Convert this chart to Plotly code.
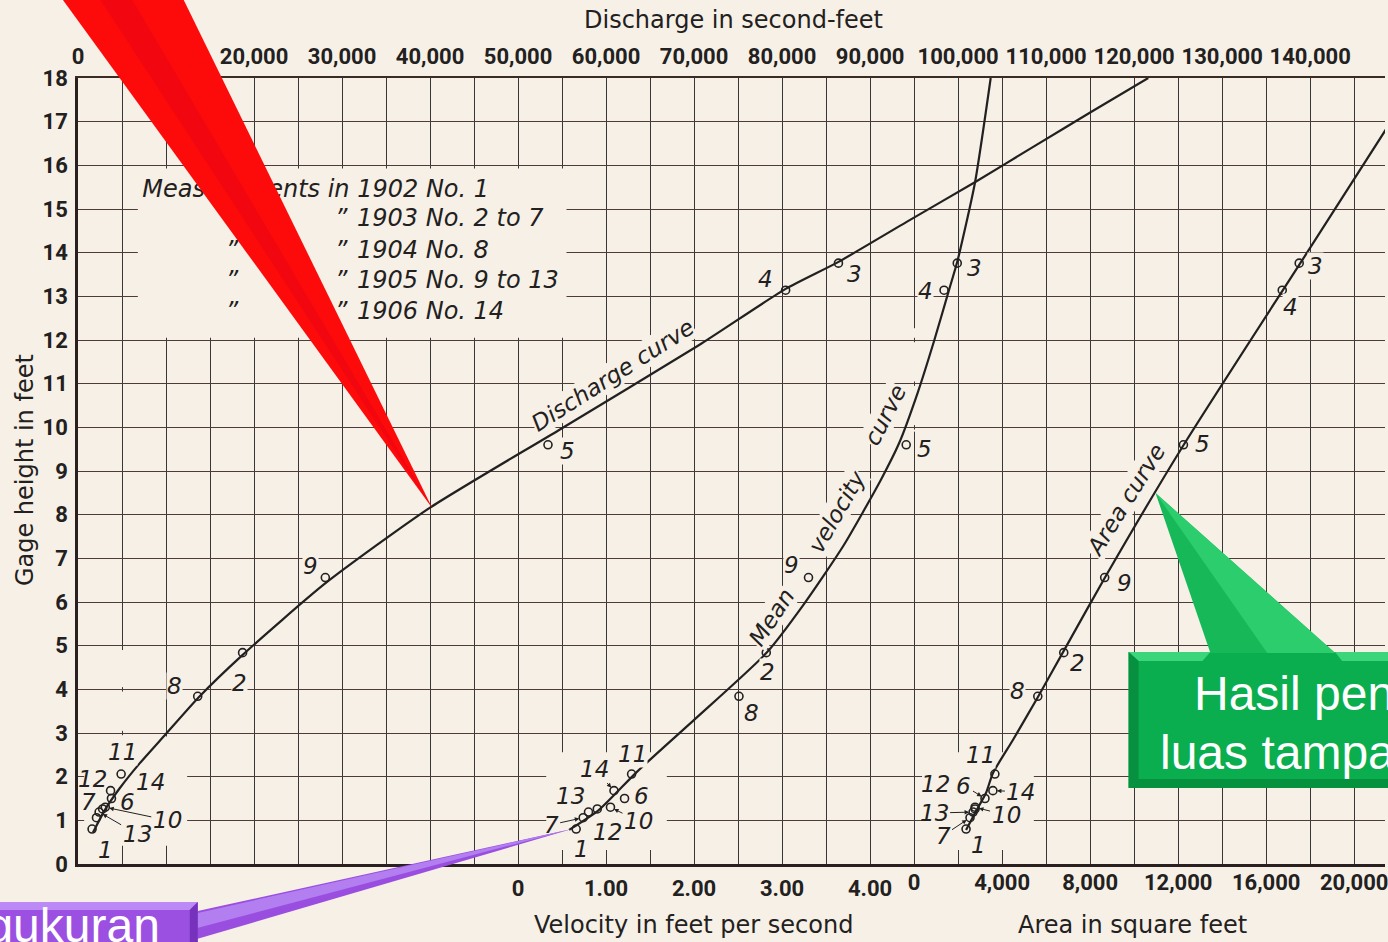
import plotly.graph_objects as go

# ---------------------------------------------------------------------------
# Current-meter measurements (numbered 1..14): gage height and the three
# quantities plotted against it.
# ---------------------------------------------------------------------------
meas_no = [1, 2, 3, 4, 5, 6, 7, 8, 9, 10, 11, 12, 13, 14]
gage_ft = [0.80, 4.84, 13.76, 13.14, 9.60, 1.50, 1.06, 3.84, 6.56, 1.30, 2.06, 1.26, 1.19, 1.68]
discharge_cfs = [1600, 18700, 86400, 80400, 53400, 3800, 2100, 13600, 28100, 3100, 4900, 2800, 2400, 3700]
velocity_fps = [0.66, 2.82, 4.99, 4.84, 4.41, 1.21, 0.74, 2.51, 3.30, 1.05, 1.29, 0.90, 0.80, 1.09]
area_sqft = [2360, 6800, 17500, 16730, 12240, 3220, 2540, 5620, 8660, 2770, 3670, 2770, 2680, 3580]

# Fitted rating curves
discharge_curve_q = [1700, 3060, 4760, 7030, 9860, 13720, 18710, 28120, 39920, 54660, 70530, 80400, 86410, 94200, 101950, 109000, 115000, 121600]
discharge_curve_g = [0.72, 1.24, 1.74, 2.31, 2.95, 3.82, 4.79, 6.43, 8.15, 9.94, 11.88, 13.17, 13.79, 14.71, 15.62, 16.48, 17.21, 18.0]

velocity_curve_v = [0.58, 0.92, 1.35, 2.00, 2.82, 3.24, 3.70, 4.12, 4.33, 4.54, 4.73, 4.90, 4.99, 5.19, 5.37]
velocity_curve_g = [0.78, 1.24, 2.11, 3.30, 4.83, 5.93, 7.30, 8.79, 9.64, 10.79, 12.0, 13.17, 13.79, 15.59, 18.0]

area_curve_a = [2360, 2770, 3270, 3580, 4490, 5620, 6800, 8660, 12240, 16730, 17500, 21720]
area_curve_g = [0.78, 1.17, 1.63, 2.08, 2.84, 3.82, 4.88, 6.55, 9.59, 13.12, 13.72, 17.04]

# Axis ticks
velocity_ticks = [0, 1, 2, 3, 4]
velocity_ticktext = ["0", "1.00", "2.00", "3.00", "4.00"]
area_ticks = [0, 4000, 8000, 12000, 16000, 20000]
area_ticktext = ["0", "4,000", "8,000", "12,000", "16,000", "20,000"]
gage_ticks = list(range(0, 19))

legend_years = ["1902 No. 1", "1903 No. 2 to 7", "1904 No. 8", "1905 No. 9 to 13", "1906 No. 14"]

# ---------------------------------------------------------------------------
# Styling / geometry
# ---------------------------------------------------------------------------
W, H = 1388, 942
L, T, B = 78, 78, 78
PW, PH = W - L, H - T - B
BG = "#f6f0e6"
INK = "#222020"
HGRID = "#4e3c3a"
VGRID = "#383636"

Q_MAX = 148500                       # discharge at right edge of the sheet
V_ORIGIN, V_SCALE = 50000, 10000     # velocity 0 sits on the 50,000 line, 1 ft/s per 10,000
A_ORIGIN, A_SCALE = 95000, 2.5       # area 0 sits on the 95,000 line, 4,000 sq ft per 10,000

TICK_FAMILY = "Roboto, DejaVu Sans Condensed, sans-serif"
TEXT_FAMILY = "DejaVu Sans, Liberation Sans, sans-serif"
CALLOUT_FAMILY = "Liberation Sans, Arial, sans-serif"
ITALIC = dict(family=TEXT_FAMILY, size=23, color=INK, style="italic")


def paper(x, y):
    """Screen pixel -> paper coordinates."""
    return (x - L) / PW, (T + PH - y) / PH


def poly(points, color):
    pts = [paper(x, y) for x, y in points]
    path = "M " + " L ".join(f"{px:.5f},{py:.5f}" for px, py in pts) + " Z"
    return dict(type="path", xref="paper", yref="paper", path=path,
                fillcolor=color, line=dict(width=0), layer="above")


def blank(x0, x1, y0, y1):
    return dict(type="rect", xref="x", yref="y", x0=x0, x1=x1, y0=y0, y1=y1,
                fillcolor=BG, line=dict(width=0), layer="between")


def blank_vertical(xc, g0, g1, half=700, gap=0.05):
    """Erase one vertical ruling between two stages, keeping the horizontals."""
    out = []
    lo = g0
    k = int(g0) + 1
    while k <= g1:
        out.append(blank(xc - half, xc + half, lo, k - gap))
        lo = k + gap
        k += 1
    if lo < g1:
        out.append(blank(xc - half, xc + half, lo, g1))
    return out


fig = go.Figure()

# ---- curves -----------------------------------------------------------------
curve_line = dict(color=INK, width=2.2, shape="spline", smoothing=0.6)
marker = dict(symbol="circle-open", size=8, color=INK, line=dict(width=1.6, color=INK))

fig.add_trace(go.Scatter(x=discharge_curve_q, y=discharge_curve_g, mode="lines",
                         line=curve_line, xaxis="x", yaxis="y", hoverinfo="skip"))
fig.add_trace(go.Scatter(x=discharge_cfs, y=gage_ft, mode="markers", marker=marker,
                         xaxis="x", yaxis="y"))

fig.add_trace(go.Scatter(x=velocity_curve_v, y=velocity_curve_g, mode="lines",
                         line=curve_line, xaxis="x2", yaxis="y", hoverinfo="skip"))
fig.add_trace(go.Scatter(x=velocity_fps, y=gage_ft, mode="markers", marker=marker,
                         xaxis="x2", yaxis="y"))

fig.add_trace(go.Scatter(x=area_curve_a, y=area_curve_g, mode="lines",
                         line=curve_line, xaxis="x3", yaxis="y", hoverinfo="skip"))
fig.add_trace(go.Scatter(x=area_sqft, y=gage_ft, mode="markers", marker=marker,
                         xaxis="x3", yaxis="y"))

# ---- key to the measurement years (drawn as a text trace) ----------------------
legend_rows_g = [15.41, 14.74, 14.02, 13.32, 12.62]
key_x, key_y, key_t = [], [], []
key_x.append(7300); key_y.append(legend_rows_g[0]); key_t.append("Measurements in " + legend_years[0])
for g, yr in zip(legend_rows_g[1:], legend_years[1:]):
    key_x += [16800, 29200, 31700]
    key_y += [g, g, g]
    key_t += ["\u201d", "\u201d", yr]
fig.add_trace(go.Scatter(x=key_x, y=key_y, text=key_t, mode="text",
                         textposition="middle right",
                         textfont=dict(family=TEXT_FAMILY, size=24, color=INK, style="italic"),
                         xaxis="x", yaxis="y", hoverinfo="skip"))

# ---- axes ---------------------------------------------------------------------
grid_vals = list(range(0, 145001, 5000))
grid_text = [f"{v:,}" if v % 10000 == 0 else "" for v in grid_vals]
tickfont = dict(family=TICK_FAMILY, size=22, color=INK, weight="bold")

fig.update_layout(
    width=W, height=H,
    margin=dict(l=L, r=0, t=T, b=B),
    paper_bgcolor=BG, plot_bgcolor=BG,
    showlegend=False,
    xaxis=dict(side="top", range=[0, Q_MAX], tickvals=grid_vals, ticktext=grid_text,
               tickangle=0, showgrid=True, gridcolor=VGRID, gridwidth=1.2, zeroline=False,
               showline=True, linecolor="#3c2c24", linewidth=2, ticks="",
               tickfont=tickfont, ticklabelstandoff=3, ticklabeloverflow="allow"),
    xaxis2=dict(overlaying="x", side="bottom", anchor="y",
                range=[(0 - V_ORIGIN) / V_SCALE, (Q_MAX - V_ORIGIN) / V_SCALE],
                tickvals=velocity_ticks, ticktext=velocity_ticktext, tickangle=0,
                showgrid=False, zeroline=False, showline=True, linecolor="#2a2020",
                linewidth=2.5, ticks="", tickfont=tickfont, ticklabelstandoff=3,
                ticklabeloverflow="allow"),
    xaxis3=dict(overlaying="x", side="bottom", anchor="y",
                range=[(0 - A_ORIGIN) / A_SCALE, (Q_MAX - A_ORIGIN) / A_SCALE],
                tickvals=area_ticks, ticktext=area_ticktext, tickangle=0,
                showgrid=False, zeroline=False, showline=False, ticks="",
                tickfont=tickfont, ticklabelstandoff=3, ticklabeloverflow="allow"),
    yaxis=dict(range=[0, 18], tickvals=gage_ticks, showgrid=True, gridcolor=HGRID,
               gridwidth=1.3, zeroline=False, showline=True, linecolor="#2a2020",
               linewidth=2.5, ticks="", tickfont=tickfont, ticklabelstandoff=3),
)

# ---- clear patches of the ruling around the key and the crowded low stages ------
shapes = [
    blank(6800, 55500, 12.05, 15.93),
    blank(700, 12400, 0.42, 2.92),
    blank(53200, 66900, 0.32, 2.56),
    blank(95900, 108600, 0.32, 2.56),
]
shapes += blank_vertical(5000, 2.9, 4.9)
shapes += blank_vertical(95000, 9.9, 12.27)

# ---- measurement numbers ------------------------------------------------------------
# plain labels: (dx, dy) screen offset from the point; arrowed labels: text offset
plain = {
    "x": {1: (13, 21), 2: (-3, 30), 3: (16, 11), 4: (-20, -11), 5: (20, 6), 6: (16, 3),
          7: (-8, -16), 8: (-23, -10), 9: (-15, -12), 11: (1, -22), 12: (-10, -30), 14: (40, -9)},
    "x2": {1: (5, 20), 2: (1, 19), 3: (17, 5), 4: (-19, 1), 5: (18, 4), 6: (17, -3),
           8: (13, 17), 9: (-17, -13), 11: (1, -20), 12: (10, 23)},
    "x3": {1: (12, 16), 2: (14, 10), 3: (16, 3), 4: (8, 17), 5: (19, -1), 8: (-20, -5),
           9: (20, 5), 11: (-14, -19), 12: (-40, -25)},
}
arrowed = {
    "x": {10: (62, 13), 13: (38, 22)},
    "x2": {7: (-32, 7), 10: (28, 14), 13: (-18, -16), 14: (-20, -22)},
    "x3": {6: (-21, -13), 7: (-27, 18), 10: (31, 8), 13: (-39, 1), 14: (28, 1)},
}
values = {"x": discharge_cfs, "x2": velocity_fps, "x3": area_sqft}
crowded = {1, 6, 7, 10, 12, 13, 14}

annotations = []
for ax_name, vals in values.items():
    for n, xv, g in zip(meas_no, vals, gage_ft):
        if n in plain[ax_name]:
            dx, dy = plain[ax_name][n]
            annotations.append(dict(
                x=xv, y=g, xref=ax_name, yref="y", text=str(n), showarrow=False,
                xanchor="center", yanchor="middle",
                xshift=dx, yshift=-dy, font=ITALIC, borderpad=0,
                bgcolor=("rgba(0,0,0,0)" if n in crowded else BG)))
        if n in arrowed[ax_name]:
            ox, oy = arrowed[ax_name][n]
            annotations.append(dict(
                x=xv, y=g, xref=ax_name, yref="y", text=str(n), showarrow=True,
                ax=ox, ay=oy, arrowhead=2, arrowsize=0.9, arrowwidth=1,
                arrowcolor=INK, standoff=4, font=ITALIC))

# ---- curve names ----------------------------------------------------------------------
curve_font = dict(family=TEXT_FAMILY, size=23, color=INK, style="italic")
for txt, xr, xv, g, ang in [
    ("Discharge curve", "x", 60770, 11.20, -32.5),
    ("Mean", "x2", 2.88, 5.66, -57),
    ("velocity", "x2", 3.62, 8.06, -60),
    ("curve", "x2", 4.17, 10.28, -63),
    ("Area curve", "x3", 9610, 8.34, -58),
]:
    annotations.append(dict(x=xv, y=g, xref=xr, yref="y", text=txt, showarrow=False,
                            xanchor="center", yanchor="middle",
                            textangle=ang, font=curve_font, bgcolor=BG, borderpad=0))

# ---- axis titles ----------------------------------------------------------------------------
title_font = dict(family=TEXT_FAMILY, size=24, color=INK)
for txt, (px_, py_), ang in [
    ("Discharge in second-feet", (735, 20), 0),
    ("Velocity in feet per second", (695, 925), 0),
    ("Area in square feet", (1135, 925), 0),
    ("Gage height in feet", (25, 470), -90),
]:
    x_, y_ = paper(px_, py_)
    annotations.append(dict(x=x_, y=y_, xref="paper", yref="paper", text=txt,
                            xanchor="center", yanchor="middle",
                            showarrow=False, textangle=ang, font=title_font))

# ---- callouts -----------------------------------------------------------------------------------
# red pointer to the discharge curve
shapes.append(poly([(60, -4), (182, -4), (433, 508)], "#fd0b0b"))
shapes.append(poly([(98, -4), (130, -4), (433, 508)], "#f2060f"))

# purple box with pointer to the first velocity measurement
shapes.append(poly([(180, 944), (198, 911), (573, 829)], "#9a4ee0"))
shapes.append(poly([(190, 930), (198, 913), (573, 829)], "#b27ef0"))
shapes.append(poly([(-10, 902), (198, 902), (198, 950), (-10, 950)], "#9b50e2"))
shapes.append(poly([(-10, 902), (198, 902), (190, 910), (-10, 910)], "#bb8af4"))
shapes.append(poly([(198, 902), (198, 950), (190, 950), (190, 910)], "#7632bd"))
x_, y_ = paper(162, 925)
annotations.append(dict(x=x_, y=y_, xref="paper", yref="paper", text="Pengukuran",
                        xanchor="right", yanchor="middle", showarrow=False,
                        font=dict(family=CALLOUT_FAMILY, size=48, color="white")))

# green box with pointer to the area curve
shapes.append(poly([(1131, 652), (1400, 652), (1400, 788), (1131, 788)], "#0aae4e"))
shapes.append(poly([(1213, 653), (1338, 653), (1158, 493)], "#17b857"))
shapes.append(poly([(1270, 653), (1338, 653), (1158, 493)], "#2ccd6c"))
shapes.append(poly([(1131, 652), (1213, 652), (1205, 661), (1141, 661)], "#3bd67c"))
shapes.append(poly([(1338, 652), (1400, 652), (1400, 661), (1345, 661)], "#3bd67c"))
shapes.append(poly([(1131, 652), (1141, 661), (1141, 779), (1131, 788)], "#07903f"))
shapes.append(poly([(1131, 788), (1141, 779), (1400, 779), (1400, 788)], "#06913f"))
for txt, (px_, py_) in [("Hasil pengukuran", (1195, 693)), ("luas tampang", (1160, 752))]:
    x_, y_ = paper(px_, py_)
    annotations.append(dict(x=x_, y=y_, xref="paper", yref="paper", text=txt,
                            xanchor="left", yanchor="middle", showarrow=False,
                            font=dict(family=CALLOUT_FAMILY, size=48, color="white")))

fig.update_layout(shapes=shapes, annotations=annotations)
fig.write_html("out.html")
